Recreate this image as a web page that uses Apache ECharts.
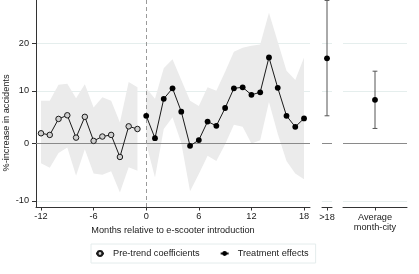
<!DOCTYPE html>
<html><head><meta charset="utf-8">
<script src="https://cdn.jsdelivr.net/npm/echarts@6/dist/echarts.min.js"></script>
<style>html,body{margin:0;padding:0;background:#fff}#c{width:419px;height:274px}</style>
</head><body><div id="c"></div>
<script>
// ---- data (% increase in accidents) ----
const preMonths = [-12,-11,-10,-9,-8,-7,-6,-5,-4,-3,-2,-1];
const preCoef   = [1.8, 1.5, 4.5, 5.2, 1.0, 4.9, 0.4, 1.2, 1.5, -2.5, 3.1, 2.6];
const preUpper  = [8.0, 8.0, 11.2, 11.4, 8.5, 11.3, 6.7, 8.7, 8.0, 3.8, 11.8, 10.7];
const preLower  = [-3.6, -4.4, -1.8, -0.8, -5.8, -1.1, -5.4, -5.6, -5.0, -8.6, -4.3, -4.9];

const trtMonths = [0,1,2,3,4,5,6,7,8,9,10,11,12,13,14,15,16,17,18];
const trtCoef   = [5.1, 0.9, 8.4, 10.5, 5.9, -0.5, 0.55, 4.0, 3.2, 6.6, 10.5, 10.7, 9.2, 9.7, 16.9, 10.6, 5.1, 3.0, 4.6];
const trtUpper  = [10.5, 8.4, 14.6, 16.5, 12.2, 8.0, 7.0, 10.7, 10.0, 13.9, 18.1, 19.0, 19.4, 19.7, 26.8, 20.3, 14.1, 12.2, 16.9];
const trtLower  = [-0.1, -6.1, 2.6, 4.8, 0.0, -8.4, -5.5, -2.3, -3.2, -0.2, 3.4, 3.0, -0.1, 0.5, 7.8, 1.7, -3.2, -5.4, -6.4];

const laterLabel = '>18';
const laterCoef = 16.7, laterLower = 5.1, laterUpper = 29.7;
const avgLabel = 'Average\nmonth-city';
const avgCoef = 8.2, avgLower = 2.7, avgUpper = 14.0;

const xTicks = [-12, -6, 0, 6, 12, 18];
const yTicks = [-10, 0, 10, 20];
const yTitle = '%-increase in accidents';
const xTitle = 'Months relative to e-scooter introduction';

// axis is logarithmic in (1 + %/100)
const toAxis = p => Math.log(1 + p / 100);
const fromAxis = v => Math.round((Math.exp(v) - 1) * 100);

const FONT = 'Liberation Sans, Arial, sans-serif';
const TXT = '#1a1a1a';
const GRIDC = '#e5eeed';
const yMin = toAxis(-11.0), yMax = toAxis(29.8);
const yTickVals = yTicks.map(toAxis);

function yAxisFor(i, visible) {
  return {
    type: 'value', gridIndex: i, min: yMin, max: yMax,
    axisLine: {show: visible, onZero: false, lineStyle: {color: '#333', width: 1}},
    axisTick: {show: visible, customValues: yTickVals, length: 4, lineStyle: {color: '#333'}},
    axisLabel: {show: visible, customValues: yTickVals, formatter: v => String(fromAxis(v)),
      color: TXT, fontFamily: FONT, fontSize: 9.2, margin: 7},
    splitLine: {show: true, lineStyle: {color: GRIDC, width: 1}}
  };
}
function xAxisSingle(i, label) {
  return {
    type: 'value', gridIndex: i, min: -1, max: 1,
    axisLine: {show: true, onZero: false, lineStyle: {color: '#333', width: 1}},
    axisTick: {show: true, customValues: [0], length: 3.5, lineStyle: {color: '#333'}},
    axisLabel: {show: true, customValues: [0], formatter: () => label, color: TXT,
      fontFamily: FONT, fontSize: 9.2, margin: 5, lineHeight: 10.5},
    splitLine: {show: false}
  };
}

const zeroMark = {
  silent: true, symbol: 'none', label: {show: false},
  lineStyle: {color: '#8a8a8a', width: 1, type: 'solid'},
  data: [{yAxis: 0}]
};

function errRender(params, api) {
  const x = api.value(0), lo = api.value(1), mid = api.value(2), hi = api.value(3);
  const pLo = api.coord([x, lo]), pHi = api.coord([x, hi]), pM = api.coord([x, mid]);
  const st = {stroke: '#555', lineWidth: 1};
  const c = 2.4;
  return {type: 'group', children: [
    {type: 'line', shape: {x1: pLo[0], y1: pLo[1], x2: pHi[0], y2: pHi[1]}, style: st},
    {type: 'line', shape: {x1: pLo[0]-c, y1: pLo[1], x2: pLo[0]+c, y2: pLo[1]}, style: st},
    {type: 'line', shape: {x1: pHi[0]-c, y1: pHi[1], x2: pHi[0]+c, y2: pHi[1]}, style: st},
    {type: 'circle', shape: {cx: pM[0], cy: pM[1], r: 2.9}, style: {fill: '#000'}}
  ]};
}

// band polygon: data items [month, lower, upper]; drawn once from all items
function bandRender(months, lower, upper) {
  return function (params, api) {
    if (params.dataIndex !== 0) return null;
    const pts = [];
    for (let i = 0; i < months.length; i++) pts.push(api.coord([months[i], toAxis(upper[i])]));
    for (let i = months.length - 1; i >= 0; i--) pts.push(api.coord([months[i], toAxis(lower[i])]));
    return {type: 'polygon', shape: {points: pts}, style: {fill: '#ebebeb'}, silent: true};
  };
}

const chart = echarts.init(document.getElementById('c'), null, {renderer: 'canvas'});
chart.setOption({
  animation: false,
  backgroundColor: '#fff',
  textStyle: {fontFamily: FONT},
  graphic: [{
    type: 'text', x: 6.5, y: 123, rotation: Math.PI / 2, silent: true,
    style: {text: yTitle, fill: TXT, font: '9.2px ' + FONT, textAlign: 'center', textVerticalAlign: 'middle'}
  }],
  grid: [
    {left: 36, top: 0, width: 274, height: 207, outerBoundsMode: 'none', containLabel: false},
    {left: 322, top: 0, width: 10, height: 207, outerBoundsMode: 'none', containLabel: false},
    {left: 343, top: 0, width: 64, height: 207, outerBoundsMode: 'none', containLabel: false}
  ],
  xAxis: [
    {
      type: 'value', gridIndex: 0, min: -12.57, max: 18.68,
      axisLine: {show: true, onZero: false, lineStyle: {color: '#333', width: 1}},
      axisTick: {show: true, customValues: xTicks, length: 3.5, lineStyle: {color: '#333'}},
      axisLabel: {show: true, customValues: xTicks, color: TXT, fontFamily: FONT, fontSize: 9.2, margin: 5},
      splitLine: {show: false},
      name: xTitle, nameLocation: 'middle', nameGap: 14,
      nameTextStyle: {color: TXT, fontFamily: FONT, fontSize: 9.2, verticalAlign: 'top'}
    },
    xAxisSingle(1, laterLabel),
    xAxisSingle(2, avgLabel)
  ],
  yAxis: [yAxisFor(0, true), yAxisFor(1, false), yAxisFor(2, false)],
  legend: {
    left: 91, top: 244,
    padding: [5, 7, 5, 4],
    itemGap: 20, itemWidth: 8, itemHeight: 6,
    borderColor: '#e4ecec', borderWidth: 1,
    textStyle: {color: TXT, fontFamily: FONT, fontSize: 9.2, padding: [0, 0, 0, 4]},
    data: ['Pre-trend coefficients', 'Treatment effects']
  },
  series: [
    {name: 'preBand', type: 'custom', xAxisIndex: 0, yAxisIndex: 0, z: 1, silent: true,
      renderItem: bandRender(preMonths, preLower, preUpper),
      data: preMonths.map((m, i) => [m, toAxis(preLower[i]), toAxis(preUpper[i])])},
    {name: 'trtBand', type: 'custom', xAxisIndex: 0, yAxisIndex: 0, z: 1, silent: true,
      renderItem: bandRender(trtMonths, trtLower, trtUpper),
      data: trtMonths.map((m, i) => [m, toAxis(trtLower[i]), toAxis(trtUpper[i])])},
    {name: 'Pre-trend coefficients', type: 'line', xAxisIndex: 0, yAxisIndex: 0, z: 5,
      symbol: 'circle', symbolSize: 5.5, showAllSymbol: true,
      lineStyle: {color: '#1a1a1a', width: 1},
      itemStyle: {color: '#cfcfcf', borderColor: '#1a1a1a', borderWidth: 1},
      data: preMonths.map((m, i) => [m, toAxis(preCoef[i])]),
      markLine: {
        silent: true, symbol: 'none', label: {show: false},
        data: [
          {yAxis: 0, lineStyle: {color: '#8a8a8a', width: 1, type: 'solid'}},
          {xAxis: 0, lineStyle: {color: '#9a9a9a', width: 1, type: [4, 3]}}
        ]
      }},
    {name: 'Treatment effects', type: 'line', xAxisIndex: 0, yAxisIndex: 0, z: 5,
      symbol: 'circle', symbolSize: 5.8, showAllSymbol: true,
      lineStyle: {color: '#1a1a1a', width: 1},
      itemStyle: {color: '#000'},
      data: trtMonths.map((m, i) => [m, toAxis(trtCoef[i])])},
    {name: 'later', type: 'custom', xAxisIndex: 1, yAxisIndex: 1, renderItem: errRender, z: 5,
      data: [[0, toAxis(laterLower), toAxis(laterCoef), toAxis(laterUpper)]], markLine: zeroMark},
    {name: 'avg', type: 'custom', xAxisIndex: 2, yAxisIndex: 2, renderItem: errRender, z: 5,
      data: [[0, toAxis(avgLower), toAxis(avgCoef), toAxis(avgUpper)]], markLine: zeroMark}
  ]
});
</script></body></html>
